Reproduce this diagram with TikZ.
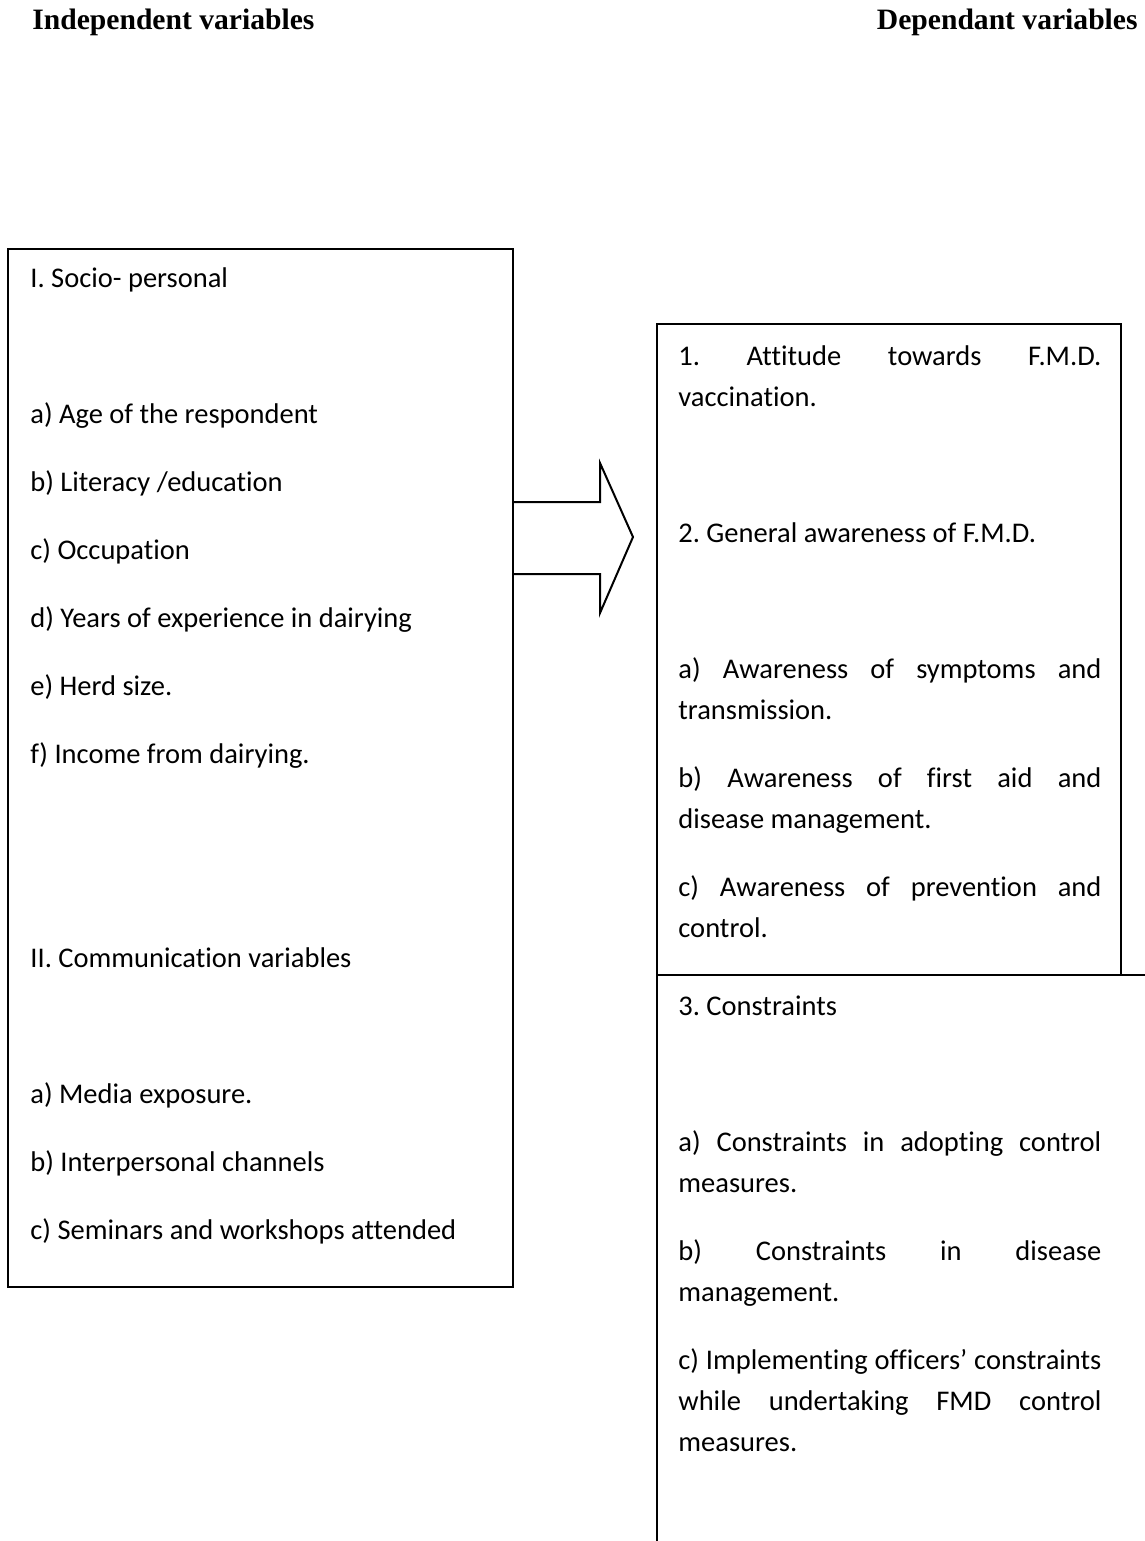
\documentclass[tikz,border=0pt]{standalone}
\usepackage{fontspec}
\setmainfont{Carlito}[Ligatures={TeX,NoCommon}]
\newfontfamily\headfam{Liberation Serif}
\newcommand\bodyfnt{\fontsize{14.25pt}{17pt}\selectfont\frenchspacing}
\newcommand\headfnt{\fontsize{14.8pt}{18pt}\headfam\bfseries}
\newcommand\jline[1]{\makebox[211.5pt][s]{#1}}
\tikzset{
  boxline/.style={line width=1.2pt},
  arrline/.style={line width=1pt, line join=miter},
  body/.style={anchor=base west, inner sep=0pt, font=\bodyfnt},
  headl/.style={anchor=base west, inner sep=0pt, font=\headfnt},
  headr/.style={anchor=base east, inner sep=0pt, font=\headfnt},
}
\begin{document}
\begin{tikzpicture}[x=0.5pt, y=-0.5pt]
\useasboundingbox (0,0) rectangle (1145,1541);
% headings
\node[headl] (hind) at (32,30) {Independent variables};
\node[headr] (hdep) at (1138,30) {Dependant variables};
% left box
\coordinate (Lnw) at (8,249);
\coordinate (Lse) at (513,1287);
\draw[boxline] (Lnw) rectangle (Lse);
% right upper box
\coordinate (Rnw) at (657,324);
\coordinate (Rse) at (1121,975);
\draw[boxline] (Rnw) rectangle (Rse);
% right lower box (open at right and bottom)
\coordinate (Rlw) at (657,975);
\coordinate (Rle) at (1145,975);
\coordinate (Rlb) at (657,1541);
\draw[boxline] (Rle) -- (Rlw) -- (Rlb);
% block arrow
\coordinate (a1) at (513,502);
\coordinate (a2) at (600,502);
\coordinate (a3) at (600,463);
\coordinate (tip) at (633,537);
\coordinate (a5) at (600,613);
\coordinate (a6) at (600,574);
\coordinate (a7) at (513,574);
\draw[arrline] (a1) -- (a2) -- (a3) -- (tip) -- (a5) -- (a6) -- (a7);
% left texts
\node[body] (l1) at (30,287) {I. Socio- personal};
\node[body] (l2) at (30,423) {a) Age of the respondent};
\node[body] (l3) at (30,491) {b) Literacy /education};
\node[body] (l4) at (30,559) {c) Occupation};
\node[body] (l5) at (30,627) {d) Years of experience in dairying};
\node[body] (l6) at (30,695) {e) Herd size.};
\node[body] (l7) at (30,763) {f) Income from dairying.};
\node[body] (l8) at (30,967) {II. Communication variables};
\node[body] (l9) at (30,1103) {a) Media exposure.};
\node[body] (l10) at (30,1171) {b) Interpersonal channels};
\node[body] (l11) at (30,1239) {c) Seminars and workshops attended};
% right texts
\node[body] (r1) at (678,365) {\jline{1. Attitude towards F.M.D.}};
\node[body] (r2) at (678,406) {vaccination.};
\node[body] (r3) at (678,542) {2. General awareness of F.M.D.};
\node[body] (r4) at (678,678) {\jline{a) Awareness of symptoms and}};
\node[body] (r5) at (678,719) {transmission.};
\node[body] (r6) at (678,787) {\jline{b) Awareness of first aid and}};
\node[body] (r7) at (678,828) {disease management.};
\node[body] (r8) at (678,896) {\jline{c) Awareness of prevention and}};
\node[body] (r9) at (678,937) {control.};
\node[body] (r10) at (678,1015) {3. Constraints};
\node[body] (r11) at (678,1151) {\jline{a) Constraints in adopting control}};
\node[body] (r12) at (678,1192) {measures.};
\node[body] (r13) at (678,1260) {\jline{b) Constraints in disease}};
\node[body] (r14) at (678,1301) {management.};
\node[body] (r15) at (678,1369) {\jline{c) Implementing officers’ constraints}};
\node[body] (r16) at (678,1410) {\jline{while undertaking FMD control}};
\node[body] (r17) at (678,1451) {measures.};
\end{tikzpicture}
\end{document}
